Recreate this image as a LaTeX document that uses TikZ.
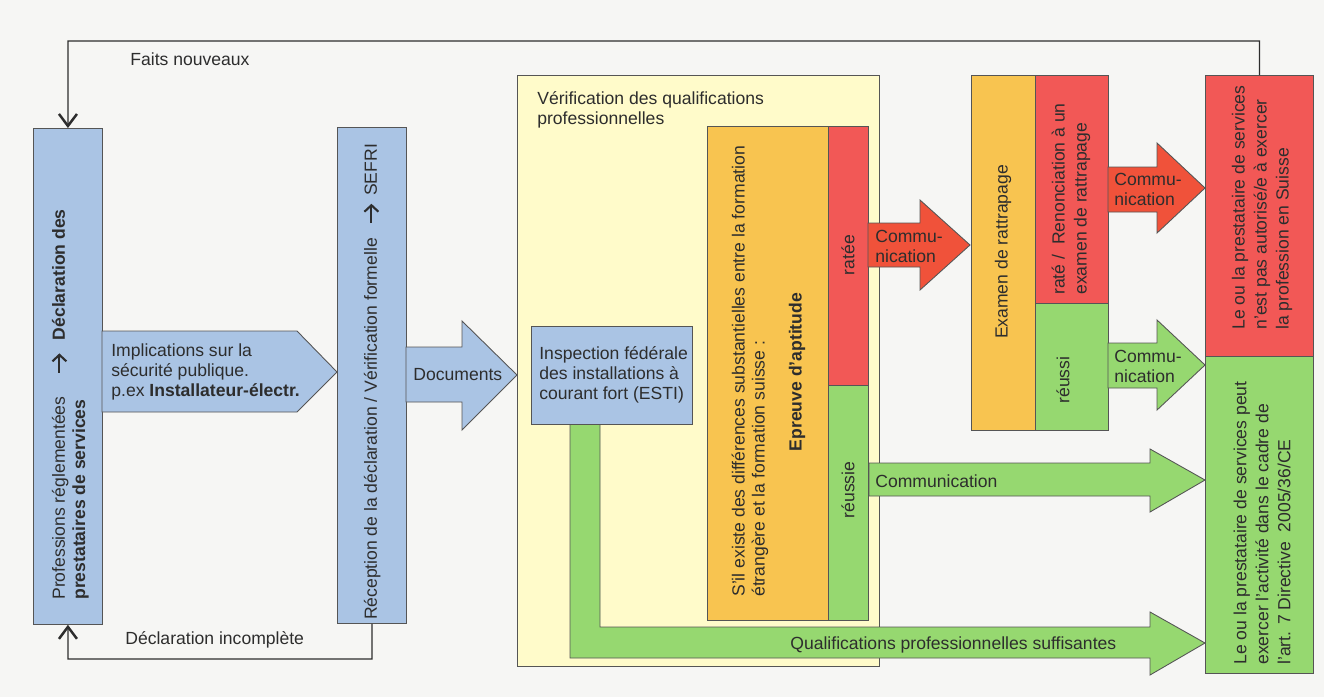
\documentclass[tikz,border=0pt]{standalone}
\usepackage{fontspec}
\setmainfont{Liberation Sans}
\usetikzlibrary{arrows.meta}

\definecolor{bg}{RGB}{246,246,244}
\definecolor{edge}{RGB}{85,85,85}
\definecolor{ink}{RGB}{45,45,45}
\definecolor{bluebox}{RGB}{170,196,228}
\definecolor{yellowbox}{RGB}{255,251,202}
\definecolor{orangebox}{RGB}{248,196,80}
\definecolor{redbox}{RGB}{242,88,86}
\definecolor{redarrow}{RGB}{240,82,58}
\definecolor{greenbox}{RGB}{150,216,112}

\newcommand{\fatarrow}{\tikz[baseline=-0.6ex]\draw[ink, line width=1.1pt, -{Straight Barb[length=1.3mm,width=2.8mm,line width=1.2pt]}] (0pt,0pt) -- (11pt,0pt);}

\tikzset{
	box/.style={draw=edge, line width=0.5pt, inner sep=0pt, anchor=north west},
	flow/.style={draw=edge, line width=0.5pt},
	txt/.style={inner sep=0pt, text=ink, align=left, font=\fontsize{10}{11.4}\selectfont},
	up/.style={txt, rotate=90},
	back/.style={draw=ink, line width=0.7pt, -{Straight Barb[length=2.4mm,width=3.6mm,line width=1.4pt]}}
}

\begin{document}
\begin{tikzpicture}[x=0.02cm, y=-0.02cm]
			\fill[bg] (0,0) rectangle (1324,697);
			\useasboundingbox (0,0) rectangle (1324,697);
			\node[box, fill=yellowbox, minimum width=7.24cm, minimum height=11.82cm] (verif) at (517,75) {};
			\node[box, fill=bluebox, minimum width=1.38cm, minimum height=9.92cm] (decl) at (33,128) {};
			\node[box, fill=bluebox, minimum width=1.38cm, minimum height=9.92cm] (recep) at (337,127) {};
			\draw[flow, fill=bluebox] (102,331) -- (297,331) -- (337,372) -- (297,412) -- (102,412) -- cycle;
			\draw[flow, fill=bluebox] (406,347) -- (462,347) -- (462,321) -- (517,375) -- (462,430) -- (462,402) -- (406,402) -- cycle;
			\draw[flow, fill=greenbox] (570,424) -- (600,424) -- (600,627) -- (1150,627) -- (1150,612) -- (1205,643) -- (1150,675) -- (1150,658) -- (570,658) -- cycle;
			\node[box, fill=bluebox, minimum width=3.22cm, minimum height=1.96cm] (esti) at (531,326) {};
			\node[box, fill=orangebox, minimum width=2.42cm, minimum height=9.88cm] (epr) at (707,126) {};
			\node[box, fill=redbox, minimum width=0.80cm, minimum height=5.18cm] (ratee) at (828,126) {};
			\node[box, fill=greenbox, minimum width=0.80cm, minimum height=4.70cm] (reussie) at (828,385) {};
			\draw[flow, fill=redarrow] (868,223) -- (920,223) -- (920,200) -- (970,245) -- (920,290) -- (920,267) -- (868,267) -- cycle;
			\draw[flow, fill=greenbox] (869,463) -- (1150,463) -- (1150,449) -- (1205,480) -- (1150,512) -- (1150,496) -- (869,496) -- cycle;
			\node[box, fill=orangebox, minimum width=1.28cm, minimum height=7.10cm] (rattr) at (971,75) {};
			\node[box, fill=redbox, minimum width=1.46cm, minimum height=4.56cm] (rate) at (1035,75) {};
			\node[box, fill=greenbox, minimum width=1.46cm, minimum height=2.54cm] (reussi) at (1035,303) {};
			\draw[flow, fill=redarrow] (1108,167) -- (1157,167) -- (1157,143) -- (1205,188) -- (1157,233) -- (1157,212) -- (1108,212) -- cycle;
			\draw[flow, fill=greenbox] (1108,343) -- (1157,343) -- (1157,320) -- (1205,365) -- (1157,410) -- (1157,388) -- (1108,388) -- cycle;
			\node[box, fill=redbox, minimum width=2.16cm, minimum height=5.62cm] (nogo) at (1205,75) {};
			\node[box, fill=greenbox, minimum width=2.16cm, minimum height=6.34cm] (go) at (1205,356) {};

			\coordinate (topturn) at (68,41);
			\coordinate (botturn) at (68,659);
			\draw[back] (nogo.north) |- (topturn) -- (decl.north);
			\draw[back] (recep.south) |- (botturn) -- (decl.south);

			\node[txt, anchor=west] (faits) at (130,59) {Faits nouveaux};
			\node[txt, anchor=west] (incompl) at (125,640) {Déclaration incomplète};
			\node[up, anchor=west] (t1) at (70,600) {Professions réglementées\hspace{1.3em}\fatarrow\hspace{0.7em}\textbf{Déclaration des}\\\textbf{prestataires de services}};
			\node[txt, anchor=west] (t2) at (111,372) {Implications sur la\\sécurité publique.\\p.ex \textbf{Installateur-électr.}};
			\node[up] (t3) at (372,382) {Réception de la déclaration / Vérification formelle\hspace{0.8em}\fatarrow\hspace{0.4em}SEFRI};
			\node[txt, anchor=west] (t4) at (413,375) {Documents};
			\node[txt, anchor=west] (t5) at (537,110) {Vérification des qualifications\\professionnelles};
			\node[txt, anchor=west] (t6) at (539,375) {Inspection fédérale\\des installations à\\courant fort (ESTI)};
			\node[up, anchor=west] (t7) at (750,597) {S’il existe des différences substantielles entre la formation\\étrangère et la formation suisse :};
			\node[up, font=\fontsize{10}{11.4}\selectfont\bfseries] (t8) at (797,372) {Epreuve d’aptitude};
			\node[up] (t9) at (848,255) {ratée};
			\node[up] (t10) at (848,490) {réussie};
			\node[txt, anchor=west] (t11) at (875,246) {Commu-\\nication};
			\node[txt, anchor=west] (t12) at (875,481) {Communication};
			\node[txt, anchor=west] (t13) at (790,645) {Qualifications professionnelles suffisantes};
			\node[up] (t14) at (1003,252) {Examen de rattrapage};
			\node[up, anchor=west, font=\fontsize{10}{12.5}\selectfont] (t15) at (1071,295) {raté /\ \ Renonciation à un\\examen de rattrapage};
			\node[up] (t16) at (1063,380) {réussi};
			\node[txt, anchor=west] (t17) at (1114,189) {Commu-\\nication};
			\node[txt, anchor=west] (t18) at (1114,366) {Commu-\\nication};
			\node[up, anchor=west, font=\fontsize{10}{12.5}\selectfont] (t19) at (1262,330) {Le ou la prestataire de services\\n'est pas autorisé/e à exercer\\la profession en Suisse};
			\node[up, anchor=west, font=\fontsize{10}{12.5}\selectfont] (t20) at (1262,665) {Le ou la prestataire de services peut\\exercer l'activité dans le cadre de\\l'art. 7 Directive\ \ 2005/36/CE};
		\end{tikzpicture}
\end{document}
